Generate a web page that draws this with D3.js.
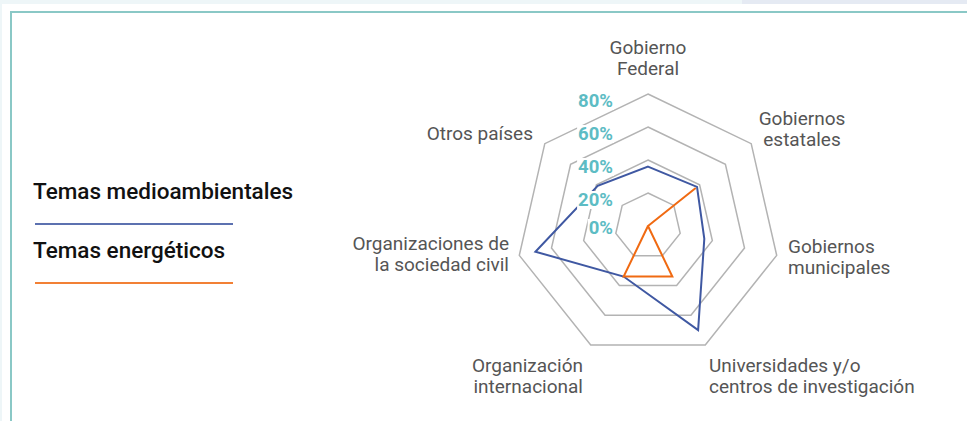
<!DOCTYPE html>
<html>
<head>
<meta charset="utf-8">
<script src="https://cdn.jsdelivr.net/npm/d3@7"></script>
<style>
  body { margin: 0; background: #fff; }
  svg { display: block; font-family: Roboto, "Noto Sans", sans-serif; }
</style>
</head>
<body>
<div id="chart"></div>
<script>
// categories (clockwise from the top)
const axes = [
  ["Gobierno", "Federal"],
  ["Gobiernos", "estatales"],
  ["Gobiernos", "municipales"],
  ["Universidades y/o", "centros de investigación"],
  ["Organización", "internacional"],
  ["Organizaciones de", "la sociedad civil"],
  ["Otros países"]
];
const seriesNames = ["Temas medioambientales", "Temas energéticos"];
const medioambientales = [36, 38, 35, 70, 34, 70, 39];
const energeticos = [0, 37, 0, 34, 34, 0, 0];
const ringTicks = [0, 20, 40, 60, 80];

const width = 967, height = 421;
const cx = 648, cy = 226;
const colors = ["#3f58a2", "#f06a12"];

const svg = d3.select("#chart")
  .append("svg")
  .attr("width", width)
  .attr("height", height);

// page frame
svg.append("rect").attr("x", 0).attr("y", 0).attr("width", width).attr("height", 4).attr("fill", "#eef6f8");
svg.append("rect").attr("x", 742).attr("y", 0).attr("width", width - 742).attr("height", 4).attr("fill", "#e5eaf3");
svg.append("rect").attr("x", 0).attr("y", 0).attr("width", 2).attr("height", height).attr("fill", "#eef6f8");
svg.append("path")
  .attr("d", `M11,${height} V12 H${width}`)
  .attr("fill", "none")
  .attr("stroke", "#8ac8c6")
  .attr("stroke-width", 2);

// radial scale
const r = d3.scaleLinear().domain([0, 80]).range([0, 132]);
const angle = d3.scaleLinear().domain([0, axes.length]).range([0, 2 * Math.PI]);

const point = (v, i) => {
  const a = angle(i);
  return [cx + r(v) * Math.sin(a), cy - r(v) * Math.cos(a)];
};

const line = d3.line().curve(d3.curveLinearClosed);

// grid rings
svg.append("g")
  .selectAll("path")
  .data(ringTicks.filter(t => t > 0))
  .enter()
  .append("path")
  .attr("d", t => line(axes.map((a, i) => point(t, i))))
  .attr("fill", "none")
  .attr("stroke", "#b3b3b3")
  .attr("stroke-width", 1.5);

// series
[medioambientales, energeticos].forEach((values, k) => {
  svg.append("path")
    .attr("d", line(values.map((v, i) => point(v, i))))
    .attr("fill", "none")
    .attr("stroke", colors[k])
    .attr("stroke-width", 2)
    .attr("stroke-linejoin", "miter");
});

// ring labels
const tickG = svg.append("g");
ringTicks.forEach(t => {
  const g = tickG.append("g");
  const txt = g.append("text")
    .attr("x", 613)
    .attr("y", cy - r(t) + (t === 0 ? 8 : 13))
    .attr("text-anchor", "end")
    .style("font-size", "18.5px")
    .style("font-weight", "bold")
    .style("fill", "#5dbcc4")
    .text(t + "%");
  const bb = txt.node().getBBox();
  g.insert("rect", "text")
    .attr("x", bb.x - 1)
    .attr("y", bb.y + 2)
    .attr("width", bb.width + 2)
    .attr("height", bb.height - 4)
    .attr("fill", "#fff");
});

// axis labels
const labelPos = [
  { x: 648, y: 54, anchor: "middle" },
  { x: 802, y: 125, anchor: "middle" },
  { x: 788, y: 253, anchor: "start" },
  { x: 709, y: 372, anchor: "start" },
  { x: 583, y: 372, anchor: "end" },
  { x: 509, y: 250, anchor: "end" },
  { x: 533, y: 140, anchor: "end" }
];
axes.forEach((lines, i) => {
  const p = labelPos[i];
  const t = svg.append("text")
    .attr("x", p.x)
    .attr("y", p.y)
    .attr("text-anchor", p.anchor)
    .style("font-size", "19px")
    .style("fill", "#555");
  lines.forEach((s, j) => {
    t.append("tspan").attr("x", p.x).attr("dy", j === 0 ? 0 : 21).text(s);
  });
});

// legend
const legendY = [199, 258];
seriesNames.forEach((name, k) => {
  svg.append("text")
    .attr("x", 33)
    .attr("y", legendY[k])
    .style("font-size", "22.5px")
    .style("font-weight", 500)
    .style("fill", "#111")
    .text(name);
  svg.append("line")
    .attr("x1", 35).attr("x2", 233)
    .attr("y1", legendY[k] + 25).attr("y2", legendY[k] + 25)
    .attr("stroke", colors[k])
    .attr("stroke-opacity", 0.85)
    .attr("stroke-width", 2);
});
</script>
</body>
</html>
